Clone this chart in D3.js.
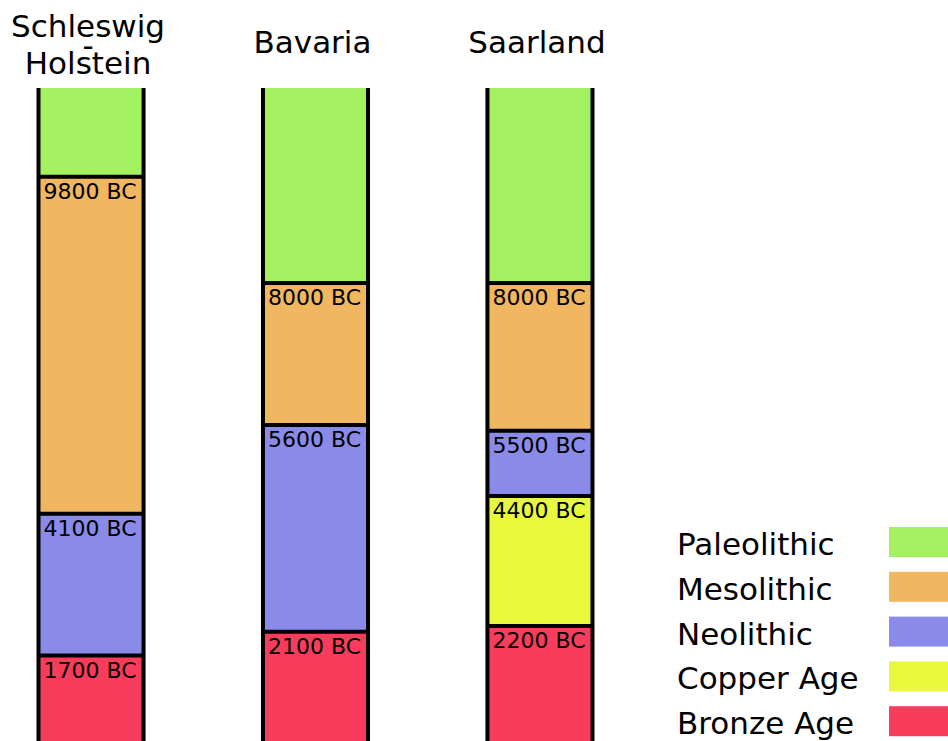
<!DOCTYPE html>
<html>
<head>
<meta charset="utf-8">
<script src="https://cdn.jsdelivr.net/npm/d3@7"></script>
<style>
  html, body { margin: 0; padding: 0; background: #fff; }
  text { font-family: "DejaVu Sans", Verdana, sans-serif; fill: #000; }
</style>
</head>
<body>
<svg id="chart" width="948" height="741"></svg>
<script>
// regions (columns) and periods (segments, top to bottom)
const regions = ['Schleswig-Holstein', 'Bavaria', 'Saarland'];
const periods = ['Paleolithic', 'Mesolithic', 'Neolithic', 'Copper Age', 'Bronze Age'];
const periodColors = ['#a3f060', '#f0b660', '#8a8ae8', '#e8f83c', '#f83c5c'];

// start year (BC) of each period per region, null = period not shown / no label
const startSH = [null, 9800, 4100, null, 1700];
const startBY = [null, 8000, 5600, null, 2100];
const startSL = [null, 8000, 5500, 4400, 2200];
const starts = [startSH, startBY, startSL];

const width = 948, height = 741;
const svg = d3.select('#chart');

// years BC on y, older at top
const y = d3.scaleLinear().domain([11300, 0]).range([88, 756]);
const x = d3.scaleBand().domain(regions).range([38.5, 592.5]).paddingInner(0.532).paddingOuter(0);
const color = d3.scaleOrdinal().domain(periods).range(periodColors);

// build segments for each column
regions.forEach((r, ri) => {
  const s = starts[ri];
  const segs = [];
  periods.forEach((p, pi) => {
    if (pi > 0 && s[pi] == null) return;
    const from = pi == 0 ? y.domain()[0] : s[pi];
    // next period that exists
    let to = 0;
    for (let k = pi + 1; k < periods.length; k++) {
      if (s[k] != null) { to = s[k]; break; }
    }
    segs.push({ period: p, from: from, to: to, label: pi > 0 ? s[pi] + ' BC' : null });
  });

  const g = svg.append('g');
  const x0 = x(r), bw = x.bandwidth();

  g.selectAll('rect.seg').data(segs).enter().append('rect')
    .attr('class', 'seg')
    .attr('x', x0)
    .attr('y', d => y(d.from))
    .attr('width', bw)
    .attr('height', d => y(d.to) - y(d.from))
    .attr('fill', d => color(d.period));

  // boundary lines
  g.selectAll('line.sep').data(segs.filter(d => d.label)).enter().append('line')
    .attr('class', 'sep')
    .attr('x1', x0).attr('x2', x0 + bw)
    .attr('y1', d => y(d.from)).attr('y2', d => y(d.from))
    .attr('stroke', '#000').attr('stroke-width', 4);

  // side lines
  [x0, x0 + bw].forEach(xx => {
    g.append('line')
      .attr('x1', xx).attr('x2', xx)
      .attr('y1', y.range()[0]).attr('y2', height)
      .attr('stroke', '#000').attr('stroke-width', 4);
  });

  g.selectAll('text.lbl').data(segs.filter(d => d.label)).enter().append('text')
    .attr('class', 'lbl')
    .attr('x', x0 + 5)
    .attr('y', d => y(d.from) + 22)
    .style('font-size', '22px')
    .text(d => d.label);

  // header, hyphenated names broken over lines
  const parts = r.includes('-') ? [r.split('-')[0], '-', r.split('-')[1]] : [r];
  const head = g.append('text')
    .attr('text-anchor', 'middle')
    .style('font-size', '31px');
  const firstBase = parts.length > 1 ? 37 : 53;
  parts.forEach((t, i) => {
    head.append('tspan')
      .attr('x', x0 + bw / 2 - 3)
      .attr('y', firstBase + i * 18.5)
      .text(t);
  });
});

// legend
const leg = svg.append('g');
periods.forEach((p, i) => {
  const ly = 527 + i * 44.8;
  leg.append('rect')
    .attr('x', 889).attr('y', ly)
    .attr('width', 70).attr('height', 30)
    .attr('fill', color(p));
  leg.append('text')
    .attr('x', 677).attr('y', ly + 28)
    .style('font-size', '31px')
    .text(p);
});
</script>
</body>
</html>
